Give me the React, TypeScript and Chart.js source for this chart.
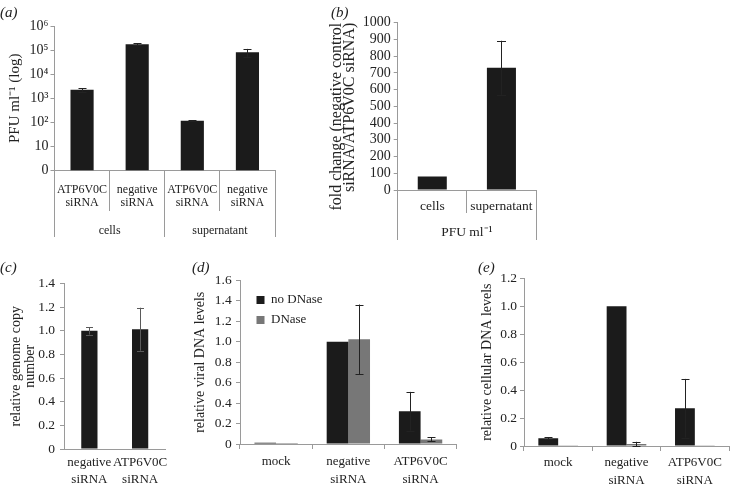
import React, { useEffect, useRef } from 'react';
import { Chart, registerables } from 'chart.js';
Chart.register(...registerables);

// ---------- data ----------
const aCategories = [['ATP6V0C', 'siRNA'], ['negative', 'siRNA'], ['ATP6V0C', 'siRNA'], ['negative', 'siRNA']];
const aGroups = ['cells', 'supernatant'];
const aValues = [2250, 175000, 115, 82000];
const aErrors = [380, 17000, 6, 30000];
const aTickValues = [1, 10, 100, 1000, 10000, 100000, 1000000];
const aTickLabels = ['0', '10', '10²', '10³', '10⁴', '10⁵', '10⁶'];

const bCategories = ['cells', 'supernatant'];
const bGroups = ['PFU ml⁻¹'];
const bValues = [80, 730];
const bErrors = [0, 162];

const cCategories = [['negative', 'siRNA'], ['ATP6V0C', 'siRNA']];
const cValues = [1.0, 1.013];
const cErrors = [0.032, 0.182];

const dCategories = ['mock', ['negative', 'siRNA'], ['ATP6V0C', 'siRNA']];
const dSeries = ['no DNase', 'DNase'];
const dNoDNase = [0.012, 1.0, 0.32];
const dNoDNaseErr = [0, 0, 0.19];
const dDNase = [0.01, 1.025, 0.045];
const dDNaseErr = [0, 0.34, 0.02];

const eCategories = ['mock', ['negative', 'siRNA'], ['ATP6V0C', 'siRNA']];
const eNoDNase = [0.055, 1.0, 0.27];
const eNoDNaseErr = [0.007, 0, 0.21];
const eDNase = [0.005, 0.015, 0.005];
const eDNaseErr = [0, 0.015, 0];

// ---------- style ----------
const FONT = 'Liberation Serif';
const TEXT = '#222222';
const AXIS = '#9a9a9a';
const BLACK = '#1b1b1b';
const GREY = '#777777';

Chart.defaults.font.family = FONT;
Chart.defaults.color = TEXT;

const errorBarPlugin = {
  id: 'errorBars',
  afterDatasetsDraw(chart: any) {
    const ctx = chart.ctx;
    chart.data.datasets.forEach((ds: any, di: number) => {
      const errs = ds.errors;
      if (!errs) return;
      const meta = chart.getDatasetMeta(di);
      const yScale = chart.scales[meta.yAxisID];
      meta.data.forEach((bar: any, i: number) => {
        const e = errs[i];
        if (!e) return;
        const v = ds.data[i];
        const yTop = yScale.getPixelForValue(v + e);
        const yBot = yScale.getPixelForValue(Math.max(v - e, yScale.min));
        const half = (ds.capWidth || 8) / 2;
        const x = Math.round(bar.x) + 0.5;
        ctx.save();
        ctx.strokeStyle = ds.errorColor || '#222';
        ctx.lineWidth = 1;
        ctx.beginPath();
        ctx.moveTo(x, yTop);
        ctx.lineTo(x, yBot);
        ctx.moveTo(x - half, Math.round(yTop) + 0.5);
        ctx.lineTo(x + half, Math.round(yTop) + 0.5);
        ctx.moveTo(x - half, Math.round(yBot) + 0.5);
        ctx.lineTo(x + half, Math.round(yBot) + 0.5);
        ctx.stroke();
        ctx.restore();
      });
    });
  },
};

// places the in-plot legend of panel (d) inside its plot area
const legendPlacePlugin = {
  id: 'legendPlace',
  afterLayout(chart: any) {
    const lg = chart.legend;
    if (lg) {
      lg.left = chart.chartArea.left + 9.5;
      lg.top = chart.chartArea.top + 6;
    }
  },
};

const fixW = (w: number) => (s: any) => { s.width = w; };
const fixH = (h: number) => (s: any) => { s.height = h; };
const dec = (v: any) => (Number(v) === 0 ? '0' : Number(v).toFixed(1));

function baseOptions(padding: any, scales: any, legend: any = { display: false }) {
  return {
    responsive: false,
    animation: false,
    events: [],
    layout: { padding },
    plugins: { legend, tooltip: { enabled: false }, title: { display: false } },
    scales,
  };
}

function yAxis(opts: any) {
  return {
    position: 'left',
    grid: { drawOnChartArea: false, drawTicks: true, tickLength: 4, color: AXIS },
    border: { color: AXIS },
    ...opts,
  };
}

function configA() {
  return {
    type: 'bar',
    data: {
      labels: aCategories,
      datasets: [{ data: aValues, errors: aErrors, errorColor: '#222', capWidth: 8, backgroundColor: BLACK, borderWidth: 0, categoryPercentage: 1, barPercentage: 0.42 }],
    },
    options: baseOptions({ left: 0, top: 26, right: 15, bottom: 8 }, {
      y: yAxis({
        type: 'logarithmic', min: 1, max: 1000000,
        afterBuildTicks: (s: any) => { s.ticks = aTickValues.map((value) => ({ value })); },
        afterFit: fixW(54.5),
        ticks: { autoSkip: false, padding: 2, font: { size: 14 }, callback: (v: any) => { const k = aTickValues.indexOf(Number(v)); return k >= 0 ? aTickLabels[k] : ''; } },
        title: { display: true, text: 'PFU ml⁻¹ (log)', font: { size: 15, lineHeight: '16px' }, padding: { top: 7, bottom: 0 } },
      }),
      x: {
        type: 'category', position: 'bottom', offset: true,
        grid: { offset: true, drawOnChartArea: false, tickLength: 40.5, color: AXIS },
        border: { color: AXIS },
        ticks: { autoSkip: false, maxRotation: 0, padding: -27.5, font: { size: 12, lineHeight: '13px' } },
        afterFit: fixH(40.5),
      },
      x2: {
        type: 'category', position: 'bottom', weight: 1, labels: aGroups, offset: true,
        grid: { offset: true, drawOnChartArea: false, tickLength: 26, color: AXIS },
        border: { display: false },
        ticks: { autoSkip: false, maxRotation: 0, padding: -13, font: { size: 12, lineHeight: '13px' } },
        afterFit: fixH(26),
      },
    }),
    plugins: [errorBarPlugin],
  };
}

function configB() {
  return {
    type: 'bar',
    data: {
      labels: bCategories,
      datasets: [{ data: bValues, errors: bErrors, errorColor: '#222', capWidth: 9, backgroundColor: BLACK, borderWidth: 0, categoryPercentage: 1, barPercentage: 0.42 }],
    },
    options: baseOptions({ left: 0, top: 22.7, right: 24, bottom: 10 }, {
      y: yAxis({
        type: 'linear', min: 0, max: 1000,
        afterFit: fixW(77.7),
        ticks: { stepSize: 100, autoSkip: false, padding: 3, font: { size: 14 }, callback: (v: any) => String(v) },
        title: { display: true, align: 'end', text: ['fold change (negative control', 'siRNA/ATP6V0C siRNA)'], font: { size: 16, lineHeight: '13px' }, padding: { top: 10.5, bottom: 0 } },
      }),
      x: {
        type: 'category', position: 'bottom', offset: true,
        grid: { offset: true, drawOnChartArea: false, tickLength: 23, color: AXIS },
        border: { color: AXIS },
        ticks: { autoSkip: false, maxRotation: 0, padding: -14, font: { size: 13.5, lineHeight: '14px' } },
        afterFit: fixH(23),
      },
      x2: {
        type: 'category', position: 'bottom', weight: 1, labels: bGroups, offset: true,
        grid: { offset: true, drawOnChartArea: false, tickLength: 27, color: AXIS },
        border: { display: false },
        ticks: { autoSkip: false, maxRotation: 0, padding: -15, font: { size: 13.5, lineHeight: '14px' } },
        afterFit: fixH(27),
      },
    }),
    plugins: [errorBarPlugin],
  };
}

function configC() {
  return {
    type: 'bar',
    data: {
      labels: cCategories,
      datasets: [{ data: cValues, errors: cErrors, errorColor: '#5a5a5a', capWidth: 7, backgroundColor: BLACK, borderWidth: 0, categoryPercentage: 1, barPercentage: 0.32 }],
    },
    options: baseOptions({ left: 0, top: 28.5, right: 14.5, bottom: 0 }, {
      y: yAxis({
        type: 'linear', min: 0, max: 1.4,
        afterFit: fixW(64),
        ticks: { stepSize: 0.2, autoSkip: false, padding: 5, font: { size: 13.5 }, callback: dec },
        title: { display: true, text: ['relative genome copy', 'number'], font: { size: 14, lineHeight: '13.5px' }, padding: { top: 10, bottom: 0 } },
      }),
      x: {
        type: 'category', position: 'bottom', offset: true,
        grid: { display: false, drawTicks: false },
        border: { color: AXIS },
        ticks: { autoSkip: false, maxRotation: 0, padding: 5.5, font: { size: 13, lineHeight: '17px' } },
        afterFit: fixH(36),
      },
    }),
    plugins: [errorBarPlugin],
  };
}

function configD() {
  return {
    type: 'bar',
    data: {
      labels: dCategories,
      datasets: [
        { label: dSeries[0], data: dNoDNase, errors: dNoDNaseErr, errorColor: '#222', capWidth: 8, backgroundColor: BLACK, borderWidth: 0, categoryPercentage: 0.6, barPercentage: 1 },
        { label: dSeries[1], data: dDNase, errors: dDNaseErr, errorColor: '#222', capWidth: 8, backgroundColor: GREY, borderWidth: 0, categoryPercentage: 0.6, barPercentage: 1 },
      ],
    },
    options: baseOptions({ left: 0, top: 25.5, right: 8.3, bottom: 0 }, {
      y: yAxis({
        type: 'linear', min: 0, max: 1.6,
        afterFit: fixW(60),
        ticks: { stepSize: 0.2, autoSkip: false, padding: 4.3, font: { size: 13.5 }, callback: dec },
        title: { display: true, text: 'relative viral DNA levels', font: { size: 14, lineHeight: '16px' }, padding: { top: 12, bottom: 0 } },
      }),
      x: {
        type: 'category', position: 'bottom', offset: true,
        grid: { offset: true, drawOnChartArea: false, tickLength: 5, color: AXIS },
        border: { color: AXIS },
        ticks: { autoSkip: false, maxRotation: 0, padding: 3.5, font: { size: 13, lineHeight: '18px' } },
        afterFit: fixH(41),
      },
    }, {
      display: true, position: 'chartArea', align: 'start',
      labels: { boxWidth: 8, boxHeight: 8, padding: 7, font: { size: 13 }, color: TEXT },
    }),
    plugins: [errorBarPlugin, legendPlacePlugin],
  };
}

function configE() {
  return {
    type: 'bar',
    data: {
      labels: eCategories,
      datasets: [
        { label: dSeries[0], data: eNoDNase, errors: eNoDNaseErr, errorColor: '#222', capWidth: 8, backgroundColor: BLACK, borderWidth: 0, categoryPercentage: 0.58, barPercentage: 1 },
        { label: dSeries[1], data: eDNase, errors: eDNaseErr, errorColor: '#222', capWidth: 8, backgroundColor: GREY, borderWidth: 0, categoryPercentage: 0.58, barPercentage: 1 },
      ],
    },
    options: baseOptions({ left: 0, top: 23.3, right: 1, bottom: 0 }, {
      y: yAxis({
        type: 'linear', min: 0, max: 1.2,
        afterFit: fixW(59),
        ticks: { stepSize: 0.2, autoSkip: false, padding: 3, font: { size: 13.5 }, callback: dec },
        title: { display: true, text: 'relative cellular DNA levels', font: { size: 14, lineHeight: '16px' }, padding: { top: 14, bottom: 0 } },
      }),
      x: {
        type: 'category', position: 'bottom', offset: true,
        grid: { offset: true, drawOnChartArea: false, tickLength: 5, color: AXIS },
        border: { color: AXIS },
        ticks: { autoSkip: false, maxRotation: 0, padding: 2.3, font: { size: 13, lineHeight: '18px' } },
        afterFit: fixH(39),
      },
    }),
    plugins: [errorBarPlugin],
  };
}

function Panel({ left, top, width, height, make }: any) {
  const ref = useRef<HTMLCanvasElement>(null);
  useEffect(() => {
    const chart = new Chart(ref.current as HTMLCanvasElement, make() as any);
    return () => chart.destroy();
  }, []);
  return (
    <canvas ref={ref} width={width} height={height}
      style={{ position: 'absolute', left, top, width, height }} />
  );
}

const letterStyle = (left: number, top: number): React.CSSProperties => ({
  position: 'absolute', left, top, fontFamily: FONT, fontStyle: 'italic',
  fontSize: 15, lineHeight: '18px', color: TEXT, whiteSpace: 'nowrap',
});

export default function App() {
  return (
    <div style={{ position: 'fixed', left: 0, top: 0, width: 730, height: 485, background: '#fff', overflow: 'hidden' }}>
      <Panel left={0} top={0} width={290} height={245} make={configA} />
      <Panel left={320} top={0} width={240} height={250} make={configB} />
      <Panel left={0} top={255} width={180} height={230} make={configC} />
      <Panel left={180} top={255} width={285} height={230} make={configD} />
      <Panel left={465} top={255} width={265} height={230} make={configE} />
      <div style={letterStyle(0, 3)}>(a)</div>
      <div style={letterStyle(331, 3)}>(b)</div>
      <div style={letterStyle(0, 258)}>(c)</div>
      <div style={letterStyle(192, 258)}>(d)</div>
      <div style={letterStyle(478, 258)}>(e)</div>
    </div>
  );
}
